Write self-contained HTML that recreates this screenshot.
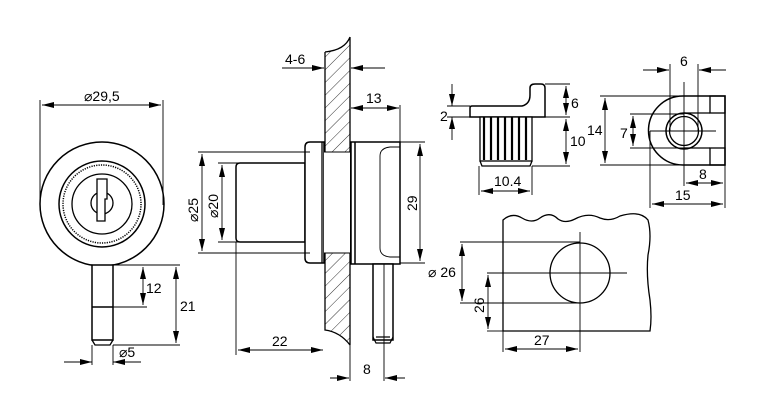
<!DOCTYPE html>
<html><head><meta charset="utf-8"><style>
html,body{margin:0;padding:0;background:#fff;}
svg{display:block;font-family:"Liberation Sans",sans-serif;}
text{font-size:14px;fill:#000;}
</style></head><body>
<svg width="768" height="414" viewBox="0 0 768 414" xmlns="http://www.w3.org/2000/svg">
<defs>
<marker id="a" viewBox="0 0 12 6" refX="12" refY="3" markerWidth="13" markerHeight="6" orient="auto-start-reverse" markerUnits="userSpaceOnUse"><path d="M0,0 L12,3 L0,6 z" fill="#000"/></marker>
<pattern id="h" width="9" height="9" patternUnits="userSpaceOnUse" patternTransform="rotate(45)"><line x1="0" y1="0" x2="0" y2="9" stroke="#000" stroke-width="0.8"/></pattern>
<clipPath id="wc"><path d="M325,52 Q345,50 350,37 L350,345 Q340,332 325,330 Z"/></clipPath>
</defs>
<g fill="none" stroke="#000" stroke-width="0.9">
<!-- LEFT VIEW -->
<line x1="40" y1="100" x2="40" y2="205"/><line x1="163" y1="100" x2="163" y2="205"/>
<line x1="42" y1="105" x2="161" y2="105" marker-start="url(#a)" marker-end="url(#a)"/>
<circle cx="102" cy="204" r="62" stroke-width="1.5"/>
<circle cx="102" cy="204" r="43" stroke-width="1.5"/>
<circle cx="102" cy="204" r="39" stroke-dasharray="1.2 1.2" stroke-width="1.5"/>
<circle cx="102" cy="204" r="30" stroke-width="1.3"/>
<circle cx="102" cy="203" r="11" stroke-width="1.3"/>
<path d="M97,179 L107,179 L107,199 L105,199 L105,221 L97,221 Z" fill="#fff" stroke-width="1.3"/>
<rect x="92" y="265" width="21" height="75" fill="#fff" stroke-width="1.5"/>
<line x1="92" y1="307" x2="113" y2="307" stroke-width="1.5"/>
<path d="M92,340 L95,345 L110,345 L113,340" stroke-width="1.3"/>
<line x1="113" y1="265" x2="180" y2="265"/><line x1="113" y1="307" x2="147" y2="307"/><line x1="113" y1="345" x2="180" y2="345"/>
<line x1="143" y1="267" x2="143" y2="305" marker-start="url(#a)" marker-end="url(#a)"/>
<line x1="176" y1="267" x2="176" y2="343" marker-start="url(#a)" marker-end="url(#a)"/>
<line x1="92" y1="345" x2="92" y2="365"/><line x1="113" y1="345" x2="113" y2="365"/>
<line x1="64" y1="362" x2="92" y2="362" marker-end="url(#a)"/>
<line x1="141" y1="362" x2="113" y2="362" marker-end="url(#a)"/>

<!-- MIDDLE VIEW -->
<rect x="325" y="30" width="25" height="320" fill="url(#h)" stroke="none" clip-path="url(#wc)"/>
<path d="M325,52 Q345,50 350,37 M325,52 L325,330 Q340,332 350,345 M350,37 L350,345" stroke-width="1.3"/>
<path d="M240,163 L305,163 L305,242 L240,242 Q236,242 236,238 L236,167 Q236,163 240,163 Z" fill="#fff" stroke-width="1.5"/>
<path d="M310,142 L324,142 L324,263 L310,263 Q305,263 305,258 L305,147 Q305,142 310,142 Z" fill="#fff" stroke-width="1.5"/>
<line x1="322" y1="142" x2="322" y2="263" stroke-width="1.3"/>
<rect x="324" y="152" width="26" height="101" fill="#fff" stroke="none"/>
<line x1="324" y1="152" x2="350" y2="152"/><line x1="324" y1="253" x2="350" y2="253"/>
<rect x="351" y="142" width="49" height="122" fill="#fff" stroke-width="1.5"/>
<line x1="355" y1="142" x2="355" y2="264" stroke-width="1.5"/>
<path d="M400,147 L390,147 Q380,148 380,156 L380,248 Q380,256 390,257 L400,257"/>
<rect x="373" y="264" width="20" height="76" fill="#fff" stroke-width="1.5"/>
<path d="M373,337 L376,343 L390,343 L393,337 M376,337 L390,337" stroke-width="1.2"/>
<line x1="384" y1="264" x2="384" y2="381"/>
<line x1="282" y1="68" x2="324" y2="68" marker-end="url(#a)"/>
<line x1="385" y1="68" x2="351" y2="68" marker-end="url(#a)"/>
<line x1="351" y1="108" x2="399" y2="108" marker-start="url(#a)" marker-end="url(#a)"/>
<line x1="400" y1="105" x2="400" y2="142"/>
<line x1="400" y1="142" x2="425" y2="142"/><line x1="400" y1="263" x2="425" y2="263"/>
<line x1="420" y1="144" x2="420" y2="261" marker-start="url(#a)" marker-end="url(#a)"/>
<line x1="198" y1="152" x2="310" y2="152"/><line x1="198" y1="253" x2="310" y2="253"/>
<line x1="202" y1="154" x2="202" y2="251" marker-start="url(#a)" marker-end="url(#a)"/>
<line x1="218" y1="163" x2="240" y2="163"/><line x1="218" y1="242" x2="240" y2="242"/>
<line x1="222" y1="165" x2="222" y2="240" marker-start="url(#a)" marker-end="url(#a)"/>
<line x1="236" y1="242" x2="236" y2="355"/>
<line x1="238" y1="350" x2="323" y2="350" marker-start="url(#a)" marker-end="url(#a)"/>
<line x1="350" y1="345" x2="350" y2="381"/>
<line x1="330" y1="378" x2="349" y2="378" marker-end="url(#a)"/>
<line x1="405" y1="378" x2="385" y2="378" marker-end="url(#a)"/>

<!-- TOP RIGHT CAP -->
<path d="M472,106 L522,106 Q530,104 530,95 L530,88 Q530,84 535,84 L541,84 Q545,84 545,88 L545,117 L470,117 L470,108 Q470,106 472,106 Z" fill="#fff" stroke-width="1.5"/>
<rect x="480" y="117" width="52" height="44" fill="#fff" stroke-width="1.3"/>
<g stroke-width="2.2"><line x1="484" y1="117" x2="484" y2="160"/><line x1="491" y1="117" x2="491" y2="160"/><line x1="498" y1="117" x2="498" y2="160"/><line x1="505" y1="117" x2="505" y2="160"/><line x1="512" y1="117" x2="512" y2="160"/><line x1="519" y1="117" x2="519" y2="160"/><line x1="526" y1="117" x2="526" y2="160"/></g>
<path d="M480,161 L482,166 L530,166 L532,161" stroke-width="1.3"/>
<line x1="447" y1="106" x2="470" y2="106"/><line x1="447" y1="117" x2="470" y2="117"/>
<line x1="452" y1="84" x2="452" y2="106" marker-end="url(#a)"/>
<line x1="452" y1="140" x2="452" y2="117" marker-end="url(#a)"/>
<line x1="545" y1="84" x2="570" y2="84"/><line x1="545" y1="117" x2="570" y2="117"/><line x1="532" y1="166" x2="570" y2="166"/>
<line x1="566" y1="86" x2="566" y2="115" marker-start="url(#a)" marker-end="url(#a)"/>
<line x1="566" y1="119" x2="566" y2="164" marker-start="url(#a)" marker-end="url(#a)"/>
<line x1="479" y1="166" x2="479" y2="195"/><line x1="532" y1="166" x2="532" y2="195"/>
<line x1="481" y1="191" x2="530" y2="191" marker-start="url(#a)" marker-end="url(#a)"/>

<!-- FAR RIGHT PIECE -->
<path d="M683,96 L725,96 L725,165 L683,165 A34.5,34.5 0 0 1 683,96 Z" fill="#fff" stroke-width="1.5"/>
<rect x="710" y="96" width="15" height="17" stroke-width="1.3"/><rect x="710" y="148" width="15" height="17" stroke-width="1.3"/>
<line x1="684" y1="113" x2="710" y2="113" stroke-width="1.3"/><line x1="684" y1="148" x2="710" y2="148" stroke-width="1.3"/>
<circle cx="684" cy="131" r="18" stroke-width="1.5"/><circle cx="684" cy="131" r="14.5" stroke-width="1.3"/>
<line x1="684" y1="82" x2="684" y2="186"/><line x1="650" y1="131" x2="716" y2="131"/>
<line x1="670" y1="64" x2="670" y2="131"/><line x1="698" y1="64" x2="698" y2="131"/>
<line x1="643" y1="70" x2="669" y2="70" marker-end="url(#a)"/>
<line x1="726" y1="70" x2="699" y2="70" marker-end="url(#a)"/>
<line x1="600" y1="96" x2="683" y2="96"/><line x1="600" y1="165" x2="683" y2="165"/>
<line x1="605" y1="98" x2="605" y2="163" marker-start="url(#a)" marker-end="url(#a)"/>
<line x1="630" y1="114" x2="684" y2="114"/><line x1="630" y1="148" x2="684" y2="148"/>
<line x1="633" y1="116" x2="633" y2="146" marker-start="url(#a)" marker-end="url(#a)"/>
<line x1="725" y1="165" x2="725" y2="208"/><line x1="650" y1="131" x2="650" y2="208"/>
<line x1="686" y1="183" x2="723" y2="183" marker-start="url(#a)" marker-end="url(#a)"/>
<line x1="652" y1="204" x2="723" y2="204" marker-start="url(#a)" marker-end="url(#a)"/>

<!-- BOTTOM RIGHT PANEL -->
<path d="M503,331 L503,220 Q512,212 522,218 Q532,224 540,218 Q550,211 558,219 Q565,224 575,219 Q588,212 600,218 Q610,222 620,216 Q640,210 648,220 Q652,235 648,255 Q646,275 650,300 Q652,318 650,331 Z" stroke-width="1.3"/>
<circle cx="580" cy="273" r="30" stroke-width="1.3"/>
<line x1="487" y1="273" x2="627" y2="273"/>
<line x1="580" y1="232" x2="580" y2="352"/>
<line x1="460" y1="242" x2="580" y2="242"/><line x1="460" y1="303" x2="580" y2="303"/>
<line x1="462" y1="244" x2="462" y2="301" marker-start="url(#a)" marker-end="url(#a)"/>
<line x1="487" y1="331" x2="503" y2="331"/>
<line x1="488" y1="275" x2="488" y2="329" marker-start="url(#a)" marker-end="url(#a)"/>
<line x1="503" y1="331" x2="503" y2="352"/>
<line x1="505" y1="349" x2="578" y2="349" marker-start="url(#a)" marker-end="url(#a)"/>
</g>
<g>
<text x="84" y="101">⌀29,5</text>
<text x="146" y="293">12</text>
<text x="180" y="311">21</text>
<text x="119" y="357">⌀5</text>
<text x="285" y="64">4-6</text>
<text x="366" y="103">13</text>
<text transform="translate(417,211) rotate(-90)">29</text>
<text transform="translate(198,222) rotate(-90)">⌀25</text>
<text transform="translate(218,218) rotate(-90)">⌀20</text>
<text x="272" y="346">22</text>
<text x="363" y="374">8</text>
<text x="440" y="121">2</text>
<text x="571" y="108">6</text>
<text x="570" y="146">10</text>
<text x="494" y="186">10.4</text>
<text x="680" y="66">6</text>
<text x="587" y="135">14</text>
<text x="620" y="138">7</text>
<text x="699" y="179">8</text>
<text x="675" y="200">15</text>
<text x="428" y="277">⌀ 26</text>
<text transform="translate(484,313) rotate(-90)">26</text>
<text x="534" y="345">27</text>
</g>
</svg>
</body></html>
